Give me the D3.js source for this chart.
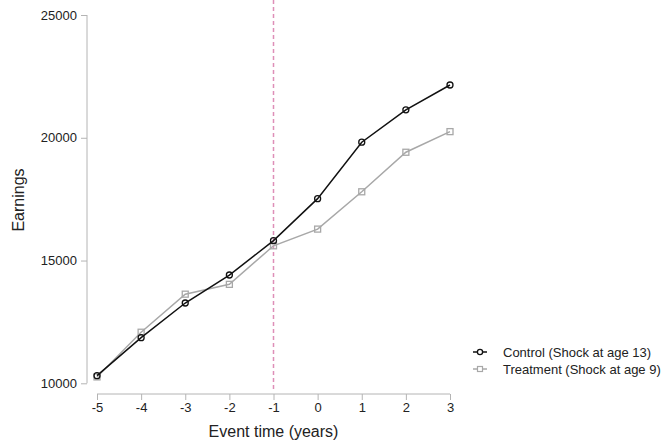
<!DOCTYPE html>
<html>
<head>
<meta charset="utf-8">
<script src="https://cdn.jsdelivr.net/npm/d3@7"></script>
<style>
  html, body { margin: 0; padding: 0; background: #fff; }
  svg { display: block; font-family: "Liberation Sans", Arial, sans-serif; }
</style>
</head>
<body>
<svg id="chart" width="667" height="444"></svg>
<script>
// Event-time grid (years relative to the event)
const eventTime = [-5, -4, -3, -2, -1, 0, 1, 2, 3];
// Mean earnings by group
const controlEarnings   = [10310, 11860, 13270, 14410, 15810, 17520, 19820, 21140, 22150];
const treatmentEarnings = [10260, 12080, 13630, 14030, 15600, 16280, 17800, 19410, 20250];
const yTicks = [10000, 15000, 20000, 25000];
const xTicks = [-5, -4, -3, -2, -1, 0, 1, 2, 3];
const eventLine = -1;
const seriesNames = ["Control (Shock at age 13)", "Treatment (Shock at age 9)"];

const svg = d3.select("#chart");
const axisColor = "#b4b4b4";
const controlColor = "#111111";
const treatColor = "#a8a8a8";

const x = d3.scaleLinear().domain([-5, 3]).range([97, 450]);
const y = d3.scaleLinear().domain([10000, 25000]).range([383.3, 15]);

// Y axis
const yAxisX = 87;
const yAxis = svg.append("g")
  .attr("transform", `translate(${yAxisX},0)`)
  .call(d3.axisLeft(y).tickValues(yTicks).tickSize(6).tickPadding(4).tickFormat(d => String(d)));
yAxis.select(".domain").attr("stroke", axisColor).attr("d", `M0,${y(10000)}V${y(25000)}`);
yAxis.selectAll(".tick line").attr("stroke", axisColor);
yAxis.selectAll(".tick text").attr("fill", "#222").style("font-size", "13px")
  .style("font-family", "'Liberation Sans', Arial, sans-serif");

// X axis (plain hyphen for negative labels)
const xAxisY = 394;
const xAxis = svg.append("g")
  .attr("transform", `translate(0,${xAxisY})`)
  .call(d3.axisBottom(x).tickValues(xTicks).tickSize(6).tickPadding(3).tickFormat(d => String(d)));
xAxis.select(".domain").attr("stroke", axisColor).attr("d", `M${x(-5)},0H${x(3)}`);
xAxis.selectAll(".tick line").attr("stroke", axisColor);
xAxis.selectAll(".tick text").attr("fill", "#222").style("font-size", "13px")
  .style("font-family", "'Liberation Sans', Arial, sans-serif");

// Axis titles
svg.append("text")
  .attr("transform", `translate(24,200) rotate(-90)`)
  .attr("text-anchor", "middle")
  .attr("fill", "#222")
  .style("font-size", "16px")
  .text("Earnings");

svg.append("text")
  .attr("x", (x(-5) + x(3)) / 2)
  .attr("y", 437)
  .attr("text-anchor", "middle")
  .attr("fill", "#222")
  .style("font-size", "16px")
  .text("Event time (years)");

// Vertical reference line at the event
svg.append("line")
  .attr("x1", x(eventLine)).attr("x2", x(eventLine))
  .attr("y1", 0).attr("y2", xAxisY - 4)
  .attr("stroke", "#de8fb8")
  .attr("stroke-width", 1.5)
  .attr("stroke-dasharray", "4,3");

const line = d3.line().x(d => x(d[0])).y(d => y(d[1]));
const treatPts = eventTime.map((t, i) => [t, treatmentEarnings[i]]);
const controlPts = eventTime.map((t, i) => [t, controlEarnings[i]]);

// Treatment series (grey, hollow squares)
svg.append("path").datum(treatPts)
  .attr("d", line).attr("fill", "none")
  .attr("stroke", treatColor).attr("stroke-width", 1.5);
svg.selectAll(".sq").data(treatPts).enter().append("rect")
  .attr("x", d => x(d[0]) - 3).attr("y", d => y(d[1]) - 3)
  .attr("width", 6).attr("height", 6)
  .attr("fill", "none").attr("stroke", treatColor).attr("stroke-width", 1.3);

// Control series (black, hollow circles)
svg.append("path").datum(controlPts)
  .attr("d", line).attr("fill", "none")
  .attr("stroke", controlColor).attr("stroke-width", 1.5);
svg.selectAll(".ci").data(controlPts).enter().append("circle")
  .attr("cx", d => x(d[0])).attr("cy", d => y(d[1]))
  .attr("r", 3)
  .attr("fill", "none").attr("stroke", controlColor).attr("stroke-width", 1.3);

// Legend
const legend = svg.append("g");
const rows = [
  { name: seriesNames[0], color: controlColor, shape: "circle", yy: 352 },
  { name: seriesNames[1], color: treatColor, shape: "square", yy: 369 }
];
rows.forEach(r => {
  legend.append("line")
    .attr("x1", 473).attr("x2", 487).attr("y1", r.yy).attr("y2", r.yy)
    .attr("stroke", r.color).attr("stroke-width", 1.5);
  if (r.shape === "circle") {
    legend.append("circle").attr("cx", 480).attr("cy", r.yy).attr("r", 2.6)
      .attr("fill", "#fff").attr("stroke", r.color).attr("stroke-width", 1.3);
  } else {
    legend.append("rect").attr("x", 477.5).attr("y", r.yy - 2.5).attr("width", 5).attr("height", 5)
      .attr("fill", "#fff").attr("stroke", r.color).attr("stroke-width", 1.2);
  }
  legend.append("text")
    .attr("x", 503).attr("y", r.yy + 4.5)
    .attr("fill", "#222")
    .style("font-size", "13px")
    .text(r.name);
});
</script>
</body>
</html>
